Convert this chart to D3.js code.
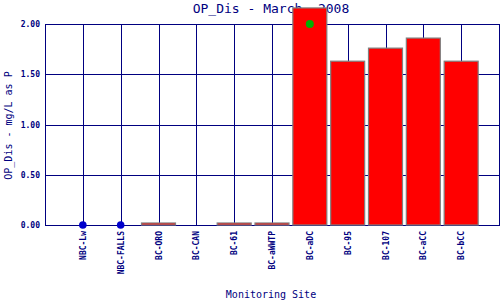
<!DOCTYPE html>
<html>
<head>
<meta charset="utf-8">
<script src="https://cdn.jsdelivr.net/npm/d3@7"></script>
<style>
  body { margin: 0; background: #fff; }
  text { font-family: "DejaVu Sans Mono", monospace; fill: #000080; }
</style>
</head>
<body>
<script>
var sites = ["NBC-Lw", "NBC-FALLS", "BC-ORO", "BC-CAN", "BC-61", "BC-aWWTP",
             "BC-aDC", "BC-95", "BC-107", "BC-aCC", "BC-bCC"];
// red bars (mg/L as P), null = no bar
var barValues = [null, null, 0.02, 0, 0.02, 0.02, 2.16, 1.63, 1.76, 1.86, 1.63];
// blue points (non-detect)
var blueSites = ["NBC-Lw", "NBC-FALLS"];
var blueValues = [0, 0];
// green point
var greenSites = ["BC-aDC"];
var greenValues = [2.00];
var yTicks = [0, 0.5, 1, 1.5, 2];

var W = 500, H = 300;
var mLeft = 45, mRight = 499, mTop = 24, mBottom = 225;
var navy = "#000080";

var svg = d3.select("body").append("svg")
    .attr("width", W)
    .attr("height", H);

var x = d3.scalePoint().domain(sites).range([mLeft, mRight]).padding(1);
var y = d3.scaleLinear().domain([0, 2]).range([mBottom, mTop]);

// title first, bar covers part of it
svg.append("text")
   .attr("x", 271).attr("y", 12.5)
   .attr("text-anchor", "middle")
   .style("font-size", "13px")
   .text("OP_Dis - March, 2008");

// grid
svg.append("g").selectAll("line").data(yTicks).enter().append("line")
   .attr("x1", mLeft).attr("x2", mRight)
   .attr("y1", function(d){ return Math.round(y(d)) + 0.5; })
   .attr("y2", function(d){ return Math.round(y(d)) + 0.5; })
   .attr("stroke", navy).attr("stroke-width", 1);
svg.append("g").selectAll("line").data(sites).enter().append("line")
   .attr("x1", function(d){ return Math.round(x(d)) + 0.5; })
   .attr("x2", function(d){ return Math.round(x(d)) + 0.5; })
   .attr("y1", mTop).attr("y2", mBottom)
   .attr("stroke", navy).attr("stroke-width", 1);
svg.append("rect")
   .attr("x", mLeft + 0.5).attr("y", mTop + 0.5)
   .attr("width", mRight - mLeft).attr("height", mBottom - mTop)
   .attr("fill", "none").attr("stroke", navy).attr("stroke-width", 1);

// bars
var bw = 34;
var bars = sites.map(function(s, i){ return {site: s, v: barValues[i]}; })
  .filter(function(d){ return d.v !== null; });
svg.append("g").selectAll("rect").data(bars).enter().append("rect")
   .attr("x", function(d){ return x(d.site) - bw / 2; })
   .attr("y", function(d){ return y(d.v); })
   .attr("width", bw)
   .attr("height", function(d){ return mBottom - y(d.v); })
   .attr("fill", "#ff0000")
   .attr("stroke", "#808080").attr("stroke-width", 1.2);

// points
svg.append("g").selectAll("circle").data(blueSites).enter().append("circle")
   .attr("cx", function(d){ return x(d); })
   .attr("cy", function(d, i){ return y(blueValues[i]); })
   .attr("r", 3.8).attr("fill", "#0000cc");
svg.append("g").selectAll("circle").data(greenSites).enter().append("circle")
   .attr("cx", function(d){ return x(d); })
   .attr("cy", function(d, i){ return y(greenValues[i]); })
   .attr("r", 4).attr("fill", "#00b000");

// y axis labels
var yAxis = d3.axisLeft(y).tickValues(yTicks).tickSize(0).tickPadding(5)
   .tickFormat(d3.format(".2f"));
var gy = svg.append("g").attr("transform", "translate(" + mLeft + ",0)").call(yAxis);
gy.select(".domain").remove();
gy.selectAll("text")
  .style("font-family", "DejaVu Sans Mono, monospace")
  .style("font-size", "8px").style("font-weight", "bold")
  .attr("fill", navy);

// x axis labels
var xAxis = d3.axisBottom(x).tickSize(0).tickPadding(0);
var gx = svg.append("g").attr("transform", "translate(0," + mBottom + ")").call(xAxis);
gx.select(".domain").remove();
gx.selectAll("text")
  .style("font-family", "DejaVu Sans Mono, monospace")
  .style("font-size", "8px").style("font-weight", "bold")
  .attr("fill", navy)
  .attr("transform", "rotate(-90)")
  .attr("x", -6).attr("y", 0).attr("dy", "0.32em")
  .attr("text-anchor", "end");

// axis titles
svg.append("text")
   .attr("x", 271).attr("y", 297.5)
   .attr("text-anchor", "middle")
   .style("font-size", "10px")
   .text("Monitoring Site");
svg.append("text")
   .attr("transform", "translate(11.5,125.5) rotate(-90)")
   .attr("text-anchor", "middle")
   .style("font-size", "10px")
   .text("OP_Dis - mg/L as P");
</script>
</body>
</html>
